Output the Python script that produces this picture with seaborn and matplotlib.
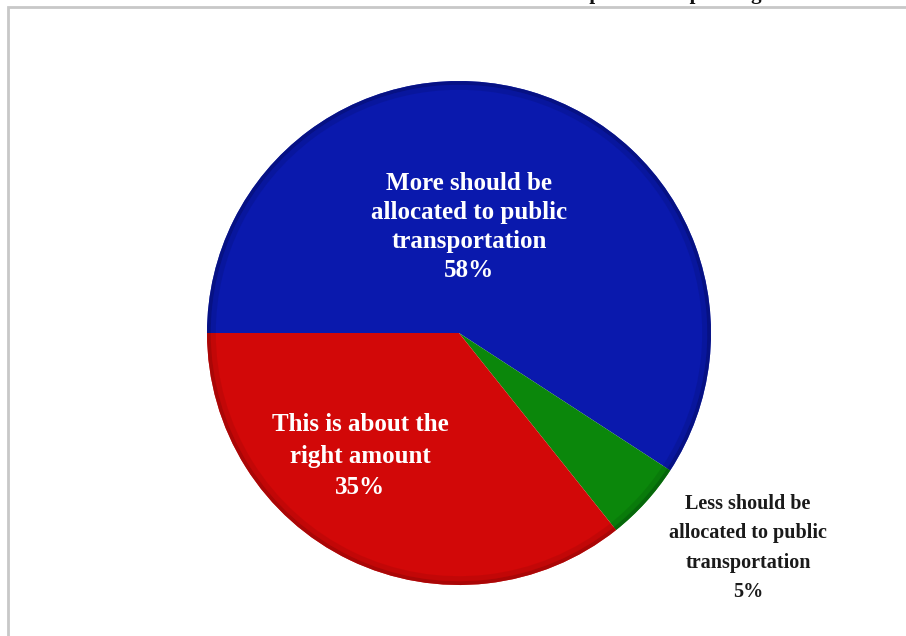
import matplotlib
matplotlib.use("Agg")
import matplotlib.pyplot as plt
from matplotlib.patches import Rectangle
import seaborn as sns

# ---- data ----
categories = ["More should be\nallocated to public\ntransportation",
              "Less should be\nallocated to public\ntransportation",
              "This is about the\nright amount"]
values = [58, 5, 35]
pct_labels = ["58%", "5%", "35%"]
colors = ["#0A19AD", "#0B870B", "#D20808"]
rim_colors = ["#06107A", "#05600A", "#A00606"]
title = "Residents' Views on Public Transportation Spending"

sns.set_theme(style="white")
plt.rcParams["font.family"] = ["Liberation Serif", "DejaVu Serif"]

W, H = 906, 636
fig = plt.figure(figsize=(W / 100, H / 100), dpi=100)
fig.patch.set_facecolor("white")

# pie center (459, 333) px, radius 252 px
cx, cy, r = 459, 333, 252
ax = fig.add_axes([(cx - r) / W, (H - cy - r) / H, 2 * r / W, 2 * r / H])
ax.set_xlim(-1, 1)
ax.set_ylim(-1, 1)
ax.set_aspect("equal")
ax.axis("off")

ax.pie(values, colors=colors, startangle=180, counterclock=False, radius=1.0,
       wedgeprops=dict(linewidth=0, antialiased=True))
# subtle darker rim for a bevelled look
ax.pie(values, colors=rim_colors, startangle=180, counterclock=False, radius=1.0,
       wedgeprops=dict(width=0.015, linewidth=0, alpha=0.8))
ax.pie(values, colors=rim_colors, startangle=180, counterclock=False, radius=0.985,
       wedgeprops=dict(width=0.02, linewidth=0, alpha=0.3))
ax.set_xlim(-1, 1)
ax.set_ylim(-1, 1)

def to_data(px, py):
    return (px - cx) / r, (cy - py) / r

label_pos = [(469, 227), (748, 548), (360, 456)]
label_col = ["white", "#1a1a1a", "white"]
label_size = [18, 14.5, 18]
label_ls = [1.33, 1.63, 1.45]
for cat, pct, (px, py), col, fs, ls in zip(categories, pct_labels, label_pos,
                                          label_col, label_size, label_ls):
    x, y = to_data(px, py)
    ax.text(x, y, cat + "\n" + pct, ha="center", va="center", color=col,
            fontsize=fs, fontweight="bold", linespacing=ls, clip_on=False)

# frame
fig.add_artist(Rectangle((7.5 / W, -0.1), 1.2, (H - 7) / H + 0.1,
                         transform=fig.transFigure, fill=False,
                         edgecolor="#C8C8C8", linewidth=2))

# title (mostly above the visible area, as in the reference)
fig.text(762 / W, 1.0 + 1.0 / H, title, ha="right", va="baseline",
         fontsize=15, fontweight="bold", color="#111111")

fig.savefig("out.png", dpi=100, facecolor="white")
